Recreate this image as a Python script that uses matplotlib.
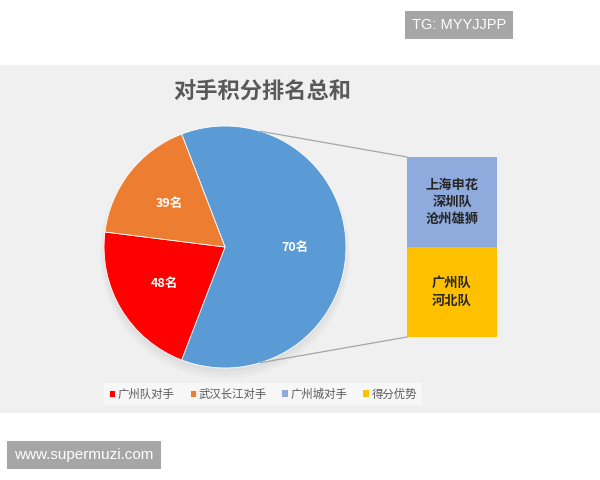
import matplotlib.pyplot as plt
from matplotlib.patches import ConnectionPatch, Rectangle
import numpy as np

plt.rcParams['font.family'] = ['Noto Sans CJK SC', 'DejaVu Sans']

title = "对手积分排名总和"
pie_names = ["广州队对手", "武汉长江对手"]
pie_values = [48, 39]
pie_colors = ["#ff0000", "#ed7d31"]
other_label = "70名"
bar_names = ["广州城对手", "得分优势"]
bar_values = [70, 70]
bar_colors = ["#8faadc", "#ffc000"]
bar_texts = ["上海申花\n深圳队\n沧州雄狮", "广州队\n河北队"]

W, H = 600, 480
fig = plt.figure(figsize=(6, 4.8), dpi=100)
fig.patch.set_facecolor("white")


def px(x0, y0, w, h):
    # pixel box (top-left origin) -> figure fraction
    return [x0 / W, 1 - (y0 + h) / H, w / W, h / H]


# grey panel behind the chart
fig.patches.append(Rectangle((0, 1 - 413 / H), 1, (413 - 65) / H, transform=fig.transFigure,
                             facecolor="#f0f0f0", edgecolor="none", zorder=-5))

fig.text(262 / W, 1 - 92 / H, title, ha="center", va="center", fontsize=16,
         fontweight="bold", color="#595959")

# pie
ax1 = fig.add_axes(px(104, 126, 242, 242))
ax1.set_zorder(1)
other = sum(bar_values)
vals = [other] + pie_values
cols = ["#5b9bd5"] + pie_colors
labels = [other_label] + [f"{v}名" for v in pie_values]
start = 360 * other / sum(vals) / 2
# soft shadow under the pie
for k, a in enumerate([0.05, 0.05, 0.05]):
    ax1.add_patch(plt.Circle((0.0, -0.03 - 0.015 * k), 1.0 + 0.015 * k, color="#808080",
                             alpha=a, linewidth=0, zorder=0))
wedges, texts = ax1.pie(vals, colors=cols, startangle=start, counterclock=False,
                        labels=labels, labeldistance=0.58,
                        wedgeprops=dict(linewidth=0.6, edgecolor="white", zorder=2),
                        textprops=dict(color="white", fontsize=9, fontweight="bold", zorder=3))
for t in texts:
    t.set_ha("center")
ax1.set_xlim(-1.08, 1.08)
ax1.set_ylim(-1.08, 1.08)
ax1.set_position(px(104 - 121 * 0.08, 126 - 121 * 0.08, 242 * 1.08, 242 * 1.08))
ax1.set_aspect("equal")

# bar
ax2 = fig.add_axes(px(407, 157, 90, 180))
ax2.set_zorder(1)
bottom = 0
bar_patches = []
for v, c, txt in zip(bar_values[::-1], bar_colors[::-1], bar_texts[::-1]):
    b = ax2.bar(0, v, width=1, bottom=bottom, color=c)
    bar_patches.append(b[0])
    ax2.text(0, bottom + v / 2, txt, ha="center", va="center", fontsize=9.5,
             fontweight="bold", color="#262626", linespacing=1.3)
    bottom += v
bar_patches = bar_patches[::-1]
ax2.set_xlim(-0.5, 0.5)
ax2.set_ylim(0, bottom)
ax2.axis("off")

# connector lines
ang = np.deg2rad(73)
for sgn, yb in [(1, bottom), (-1, 0)]:
    con = ConnectionPatch(xyA=(-0.5, yb), coordsA=ax2.transData,
                          xyB=(np.cos(ang), sgn * np.sin(ang)), coordsB=ax1.transData,
                          color="#a6a6a6", linewidth=0.9, zorder=2)
    fig.add_artist(con)

# legend
handles = list(wedges[1:]) + bar_patches
leg = fig.legend(handles, pie_names + bar_names, loc="center", bbox_to_anchor=(263 / W, 1 - 394 / H),
                 ncol=4, frameon=True, fontsize=8.2, handlelength=0.55, handleheight=0.55,
                 handletextpad=0.25, columnspacing=1.3, borderpad=0.45, fancybox=False)
leg.get_frame().set_facecolor("#fafafa")
leg.get_frame().set_edgecolor("none")
for t in leg.get_texts():
    t.set_color("#595959")

# watermarks
fig.text(459 / W, 1 - 25 / H, "TG: MYYJJPP", ha="center", va="center", fontsize=10.5,
         color="white", family="Liberation Sans",
         bbox=dict(boxstyle="square,pad=0.5", facecolor="#a6a6a6", edgecolor="none"))
fig.text(84 / W, 1 - 455 / H, "www.supermuzi.com", ha="center", va="center", fontsize=11,
         color="white", family="Liberation Sans",
         bbox=dict(boxstyle="square,pad=0.45", facecolor="#a6a6a6", edgecolor="none"))

fig.savefig("out.png", dpi=100)
